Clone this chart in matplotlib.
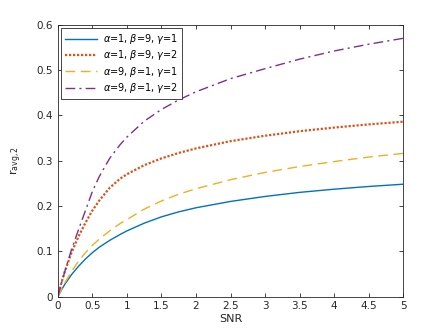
import matplotlib
matplotlib.use("Agg")
import matplotlib.pyplot as plt

# values
snr = [0, 0.05, 0.1, 0.2, 0.3, 0.4, 0.5, 0.6, 0.75, 0.9, 1, 1.25, 1.5, 1.75, 2, 2.5, 3, 3.5, 4, 4.5, 5]
r_a1_b9_g1 = [0, 0.014, 0.027, 0.049, 0.067, 0.083, 0.097, 0.109, 0.124, 0.137, 0.145, 0.162,
              0.176, 0.187, 0.196, 0.21, 0.221, 0.23, 0.237, 0.243, 0.248]
r_a1_b9_g2 = [0, 0.03, 0.055, 0.098, 0.133, 0.163, 0.19, 0.212, 0.24, 0.26, 0.27, 0.29,
              0.305, 0.317, 0.327, 0.343, 0.355, 0.365, 0.373, 0.38, 0.386]
r_a9_b1_g1 = [0, 0.015, 0.03, 0.056, 0.078, 0.097, 0.113, 0.127, 0.145, 0.161, 0.17, 0.193,
              0.211, 0.226, 0.238, 0.258, 0.274, 0.287, 0.298, 0.308, 0.316]
r_a9_b1_g2 = [0, 0.028, 0.055, 0.105, 0.148, 0.19, 0.232, 0.265, 0.305, 0.335, 0.352, 0.387,
              0.413, 0.434, 0.452, 0.481, 0.503, 0.524, 0.542, 0.557, 0.57]

labels = [r'$\alpha$=1, $\beta$=9, $\gamma$=1',
          r'$\alpha$=1, $\beta$=9, $\gamma$=2',
          r'$\alpha$=9, $\beta$=1, $\gamma$=1',
          r'$\alpha$=9, $\beta$=1, $\gamma$=2']

plt.rcParams['font.family'] = ['DejaVu Sans']
plt.rcParams['font.size'] = 7.5

fig = plt.figure(figsize=(4.45, 3.34), dpi=100)
ax = fig.add_axes([0.13, 0.112, 0.776, 0.814])

ax.plot(snr, r_a1_b9_g1, color='#0072BD', lw=1.0, label=labels[0])
ax.plot(snr, r_a1_b9_g2, color='#D95319', lw=1.6, ls=(0, (1, 0.8)), label=labels[1])
ax.plot(snr, r_a9_b1_g1, color='#EDB120', lw=1.0, ls=(0, (7, 4)), label=labels[2])
ax.plot(snr, r_a9_b1_g2, color='#7E2F8E', lw=1.0, ls=(0, (7, 3, 1.5, 3)), label=labels[3])

ax.set_xlim(0, 5)
ax.set_ylim(0, 0.6)
ax.set_xticks([0, 0.5, 1, 1.5, 2, 2.5, 3, 3.5, 4, 4.5, 5])
ax.set_xticklabels(['0', '0.5', '1', '1.5', '2', '2.5', '3', '3.5', '4', '4.5', '5'])
ax.set_yticks([0, 0.1, 0.2, 0.3, 0.4, 0.5, 0.6])
ax.set_yticklabels(['0', '0.1', '0.2', '0.3', '0.4', '0.5', '0.6'])
ax.tick_params(direction='in', top=True, right=True, length=3, width=0.6,
               colors='#262626', labelsize=7.5)
for s in ax.spines.values():
    s.set_color('#262626')
    s.set_linewidth(0.6)

ax.set_xlabel('SNR', fontsize=8, color='#262626', labelpad=2)
ax.set_ylabel(r'r$_{\rm avg,2}$', fontsize=8, color='#262626', labelpad=9)

leg = ax.legend(loc='upper left', fontsize=7, frameon=True, fancybox=False,
                edgecolor='#262626', framealpha=1, handlelength=3.3,
                borderaxespad=0.35, labelspacing=0.25, handletextpad=0.6,
                borderpad=0.4)
leg.get_frame().set_linewidth(0.6)

fig.savefig('out.png', dpi=100)
